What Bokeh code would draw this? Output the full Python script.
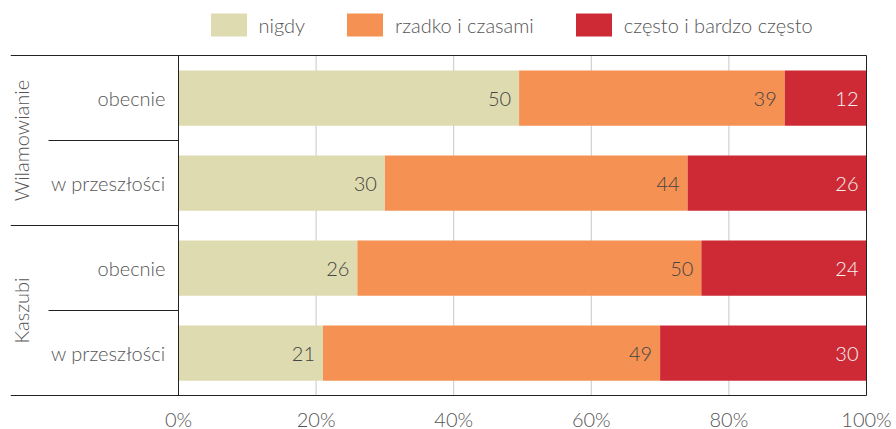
import numpy as np
from bokeh.plotting import figure
from bokeh.models import ColumnDataSource, Range1d, FixedTicker, Legend, LegendItem, NumeralTickFormatter
from bokeh.core.properties import value
from bokeh.embed import file_html
from bokeh.resources import INLINE

# ---------------- data ----------------
groups = ["Wilamowianie", "Wilamowianie", "Kaszubi", "Kaszubi"]
periods = ["obecnie", "w przeszłości", "obecnie", "w przeszłości"]
series_names = ["nigdy", "rzadko i czasami", "często i bardzo często"]
nigdy = [50, 30, 26, 21]
rzadko = [39, 44, 50, 49]
czesto = [12, 26, 24, 30]
tick_values = [0, 0.2, 0.4, 0.6, 0.8, 1.0]
tick_labels = ["0%", "20%", "40%", "60%", "80%", "100%"]

# ---------------- style ----------------
FONT = "Lato Light"
colors = ["#dfdbb0", "#f59253", "#cd2a36"]
label_colors = ["#444444", "#444444", "#f4f4f4"]
TEXT = "#555555"
BORDER = "#222222"
GRID = "#c8c8c8"

n = len(periods)
ys = [n - i - 0.5 for i in range(n)]

values = np.array([nigdy, rzadko, czesto], dtype=float)
totals = values.sum(axis=0)
shares = values / totals
rights = np.cumsum(shares, axis=0)
lefts = rights - shares

W, H = 896, 429
ML, MR = 10, 0
X0 = -168 / 688
X1 = X0 + (W - ML - MR) / 688
p = figure(width=W, height=H, output_backend="svg", toolbar_location=None,
           x_range=Range1d(X0, X1),
           y_range=Range1d(-(H - 395) / 85, n + 55 / 85),
           y_axis_location=None)
p.title.visible = False
p.min_border_left = ML
p.min_border_right = MR
p.min_border_top = 0
p.min_border_bottom = 0
p.outline_line_color = None
p.xgrid.visible = False
p.ygrid.visible = False
p.background_fill_color = "white"

# gridlines (inner ticks)
inner = tick_values[1:-1]
p.segment(x0=inner, y0=[0] * len(inner), x1=inner, y1=[n] * len(inner),
          line_color=GRID, line_width=1)

# bars
renderers = []
for k, name in enumerate(series_names):
    src = ColumnDataSource(dict(y=ys, left=lefts[k], right=rights[k],
                                label=[str(int(v)) for v in values[k]]))
    r = p.hbar(y="y", left="left", right="right", height=0.65, source=src,
               fill_color=colors[k], line_color=None)
    renderers.append(r)
    p.text(x="right", y="y", text="label", source=src, text_align="right",
           text_baseline="middle", x_offset=-8, y_offset=1,
           text_font=value(FONT), text_font_size="20px", text_color=label_colors[k])

# frame borders (at first and last tick)
p.segment(x0=[tick_values[0], tick_values[-1]], y0=[0, 0],
          x1=[tick_values[0], tick_values[-1]], y1=[n, n],
          line_color=BORDER, line_width=1)
# top line spanning whole width
p.segment(x0=[X0], y0=[n], x1=[tick_values[-1]], y1=[n], line_color=BORDER, line_width=1)

# separators between rows
short_x = -130 / 688
sx0, sy = [], []
for i in range(1, n):
    b = n - i
    sy.append(b)
    sx0.append(X0 if groups[i] != groups[i - 1] else short_x)
p.segment(x0=sx0, y0=sy, x1=[0] * len(sy), y1=sy, line_color=BORDER, line_width=1)

# period labels
p.text(x=[-13 / 688] * n, y=ys, text=periods, text_align="right", text_baseline="middle",
       text_font=value(FONT), text_font_size="20px", text_color=TEXT)

# group labels (rotated)
uniq = []
for g in groups:
    if g not in uniq:
        uniq.append(g)
gy = [np.mean([ys[i] for i in range(n) if groups[i] == g]) for g in uniq]
p.text(x=[-158 / 688] * len(uniq), y=gy, text=uniq, angle=np.pi / 2,
       text_align="center", text_baseline="middle",
       text_font=value(FONT), text_font_size="20px", text_color=TEXT)

# x axis at y=0
ax = p.xaxis[0]
ax.fixed_location = 0
ax.bounds = (X0, tick_values[-1])
ax.ticker = FixedTicker(ticks=tick_values)
ax.formatter = NumeralTickFormatter(format="0%")
ax.major_label_overrides = {t: l for t, l in zip(tick_values, tick_labels)}
ax.axis_line_color = BORDER
ax.axis_line_width = 1
ax.major_tick_line_color = None
ax.minor_tick_line_color = None
ax.major_label_standoff = 5
ax.major_label_text_font = FONT
ax.major_label_text_font_size = "20px"
ax.major_label_text_color = TEXT

# legend
items = [LegendItem(label=nm, renderers=[r]) for nm, r in zip(series_names, renderers)]
legend = Legend(items=items, orientation="horizontal", location=(195.5, 390),
                glyph_width=45, glyph_height=29, label_standoff=8, spacing=37,
                padding=0, margin=0, border_line_color=None, background_fill_alpha=0,
                label_text_font=FONT, label_text_font_size="20px", label_text_color=TEXT)
p.add_layout(legend, "center")

open("out.html", "w").write(file_html(p, INLINE))
